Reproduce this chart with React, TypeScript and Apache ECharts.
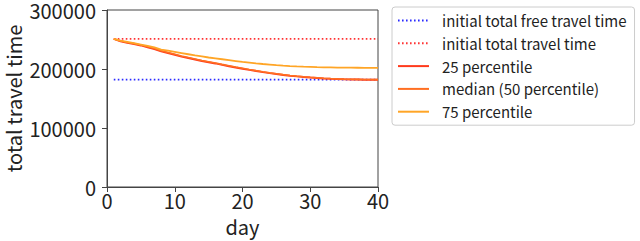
import React, { useEffect, useRef } from "react";
import * as echarts from "echarts";

const days: number[] = Array.from({ length: 40 }, (_, i) => i + 1);

const freeTravelTime = 182000;
const initialTravelTime = 251000;

const p25: number[] = [
  251000, 247000, 244500, 242500, 240000, 237000, 234000, 230000, 227000, 224000,
  221000, 218500, 216000, 213500, 211500, 209500, 207000, 204800, 202500, 200500,
  198500, 196500, 194700, 193000, 191400, 190000, 188700, 187500, 186500, 185600,
  184800, 184100, 183500, 183000, 182600, 182300, 182100, 181900, 181800, 181700,
];

const p50: number[] = [
  251000, 247500, 245000, 243000, 240700, 237800, 234800, 231000, 228000, 225000,
  222000, 219500, 217000, 214500, 212400, 210300, 207800, 205600, 203300, 201300,
  199200, 197200, 195300, 193500, 191900, 190400, 189100, 187900, 186900, 186000,
  185200, 184400, 183800, 183300, 182900, 182600, 182400, 182200, 182100, 182000,
];

const p75: number[] = [
  251000, 248000, 246000, 244000, 241500, 239000, 236500, 233000, 231000, 229000,
  227000, 225000, 223000, 221500, 219500, 218000, 216500, 215000, 213500, 212000,
  210800, 209600, 208500, 207500, 206500, 205700, 205000, 204400, 203900, 203500,
  203100, 202800, 202600, 202400, 202300, 202200, 202100, 202000, 202000, 202000,
];

const yTicks = { min: 0, max: 300000, interval: 100000 };
const xTicks = { min: 0, max: 40, interval: 10 };

const FONT = "'Noto Sans CJK JP', 'Noto Sans', sans-serif";

export default function App() {
  const ref = useRef<HTMLDivElement>(null);
  useEffect(() => {
    if (!ref.current) return;
    const chart = echarts.init(ref.current, undefined, { renderer: "svg" });
    const pair = (arr: number[]) => days.map((d, i) => [d, arr[i]]);
    const flat = (v: number) => [
      [days[0], v],
      [days[days.length - 1], v],
    ];
    chart.setOption({
      animation: false,
      textStyle: { fontFamily: FONT },
      grid: {
        left: 107,
        right: 262,
        top: 6,
        bottom: 49,
        show: true,
        borderColor: "#444",
        borderWidth: 1,
        backgroundColor: "transparent",
      },
      legend: {
        orient: "vertical",
        left: 392,
        top: 7,
        itemWidth: 31,
        itemHeight: 10,
        itemGap: 7.8,
        padding: [6, 8, 6, 5],
        borderColor: "#ccc",
        borderWidth: 1,
        borderRadius: 3,
        itemStyle: { opacity: 0 },
        textStyle: { fontFamily: FONT, fontSize: 15, color: "#222", padding: [0, 0, 0, 8] },
        data: [
          "initial total free travel time",
          "initial total travel time",
          "25 percentile",
          "median (50 percentile)",
          "75 percentile",
        ],
      },
      xAxis: {
        type: "value",
        min: xTicks.min,
        max: xTicks.max,
        interval: xTicks.interval,
        name: "day",
        nameLocation: "middle",
        nameGap: 29,
        nameTextStyle: { fontFamily: FONT, fontSize: 20, color: "#222" },
        axisLine: { show: true, lineStyle: { color: "#444" } },
        axisTick: { show: true, length: 5, lineStyle: { color: "#444" } },
        axisLabel: { fontFamily: FONT, fontSize: 20, color: "#222", margin: 3, formatter: (v: number) => String(v) },
        splitLine: { show: false },
      },
      yAxis: {
        type: "value",
        min: yTicks.min,
        max: yTicks.max,
        interval: yTicks.interval,
        name: "total travel time",
        nameLocation: "middle",
        nameGap: 84,
        nameTextStyle: { fontFamily: FONT, fontSize: 20, color: "#222" },
        axisLine: { show: true, lineStyle: { color: "#444" } },
        axisTick: { show: true, length: 5, lineStyle: { color: "#444" } },
        axisLabel: { fontFamily: FONT, fontSize: 20, color: "#222", margin: 11, formatter: (v: number) => String(v) },
        splitLine: { show: false },
      },
      series: [
        {
          name: "initial total free travel time",
          type: "line",
          data: flat(freeTravelTime),
          symbol: "none",
          itemStyle: { color: "#2a2aff" },
          lineStyle: { color: "#2a2aff", width: 1.6, type: [1.6, 2.4] },
        },
        {
          name: "initial total travel time",
          type: "line",
          data: flat(initialTravelTime),
          symbol: "none",
          itemStyle: { color: "#ff3333" },
          lineStyle: { color: "#ff3333", width: 1.6, type: [1.6, 2.4] },
        },
        {
          name: "25 percentile",
          type: "line",
          data: pair(p25),
          symbol: "none",
          itemStyle: { color: "#ff3a1c" },
          lineStyle: { color: "#ff3a1c", width: 2 },
        },
        {
          name: "median (50 percentile)",
          type: "line",
          data: pair(p50),
          symbol: "none",
          itemStyle: { color: "#ff6f22" },
          lineStyle: { color: "#ff6f22", width: 1.6 },
        },
        {
          name: "75 percentile",
          type: "line",
          data: pair(p75),
          symbol: "none",
          itemStyle: { color: "#ffa526" },
          lineStyle: { color: "#ffa526", width: 1.8 },
        },
      ],
    });
    return () => chart.dispose();
  }, []);
  return <div ref={ref} style={{ width: 640, height: 241, position: "absolute", left: 0, top: 0 }} />;
}
